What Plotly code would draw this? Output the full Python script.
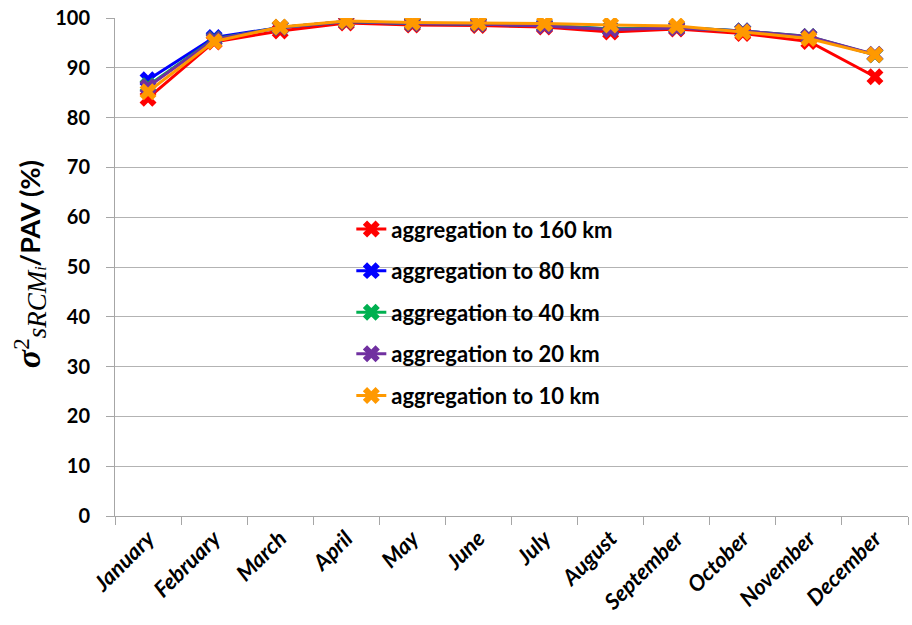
import plotly.graph_objects as go

months = ["January", "February", "March", "April", "May", "June", "July",
          "August", "September", "October", "November", "December"]

agg_160 = [83.9, 95.2, 97.4, 99.0, 98.6, 98.5, 98.2, 97.2, 97.8, 96.9, 95.3, 88.2]
agg_80 = [87.6, 96.1, 98.1, 99.3, 98.9, 98.8, 98.5, 97.8, 98.1, 97.4, 96.2, 92.6]
agg_40 = [86.4, 95.8, 98.1, 99.3, 98.9, 98.8, 98.5, 97.8, 98.1, 97.4, 96.3, 92.6]
agg_20 = [86.2, 95.7, 98.1, 99.3, 98.9, 98.8, 98.4, 97.7, 98.0, 97.4, 96.3, 92.7]
agg_10 = [85.2, 95.3, 98.2, 99.4, 99.1, 99.0, 98.9, 98.6, 98.4, 97.2, 95.9, 92.6]

series = [
    ("aggregation to 160 km", agg_160, "#ff0000"),
    ("aggregation to 80 km", agg_80, "#0000ff"),
    ("aggregation to 40 km", agg_40, "#00b050"),
    ("aggregation to 20 km", agg_20, "#7030a0"),
    ("aggregation to 10 km", agg_10, "#ff9900"),
]

FONT = "Lato"
MATH = "Liberation Serif"

fig = go.Figure()
for i, (name, vals, color) in enumerate(series):
    fig.add_trace(go.Scatter(
        x=months, y=vals, name=name, mode="lines+markers",
        legendgroup=f"g{i}",
        line=dict(color=color, width=3),
        marker=dict(symbol="x", size=15, color=color, line=dict(width=0)),
    ))

ytitle = (
    f"<span style='font-family:{MATH};font-size:34px'><b><i>σ</i></b></span>"
    f"<sup><span style='font-family:{MATH};font-size:23px'>2</span></sup>"
    f"<sub><span style='font-family:{MATH};font-size:27px'><i>sRCM</i></span>"
    f"<span style='font-family:{MATH};font-size:16px'><i>i</i></span></sub>"
    "<b>/PAV (%)</b>"
)

fig.update_layout(
    width=912, height=625,
    margin=dict(l=115, r=4, t=18, b=109),
    paper_bgcolor="white", plot_bgcolor="white",
    font=dict(family=FONT, color="black"),
    showlegend=True,
    legend=dict(
        x=0.298, y=0.618, xanchor="left", yanchor="top",
        bgcolor="rgba(0,0,0,0)", borderwidth=0,
        font=dict(family=FONT, size=22, color="black", weight="bold"),
        tracegroupgap=10, itemwidth=30,
    ),
    annotations=[dict(
        text=ytitle, textangle=-90, showarrow=False,
        xref="paper", yref="paper", x=-0.107, y=0.506,
        xanchor="center", yanchor="middle",
        font=dict(family=FONT, size=27, color="black"),
    )],
)

fig.update_xaxes(
    type="category", range=[-0.5, 11.5],
    showgrid=False, showline=True, linecolor="#a6a6a6", linewidth=1,
    ticks="outside", ticklen=8, tickcolor="#a6a6a6",
    tickson="boundaries", tickangle=-45,
    tickfont=dict(family=FONT, size=22, color="black", weight="bold", style="italic"),
)
fig.update_yaxes(
    range=[0, 100], dtick=10,
    showgrid=True, gridcolor="#b3b3b3", gridwidth=1,
    showline=True, linecolor="#a6a6a6", linewidth=1,
    ticks="outside", ticklen=8, tickcolor="#a6a6a6",
    ticklabelstandoff=12,
    zeroline=False,
    tickfont=dict(family=FONT, size=20, color="black", weight="bold"),
)

fig.write_html("out.html")
